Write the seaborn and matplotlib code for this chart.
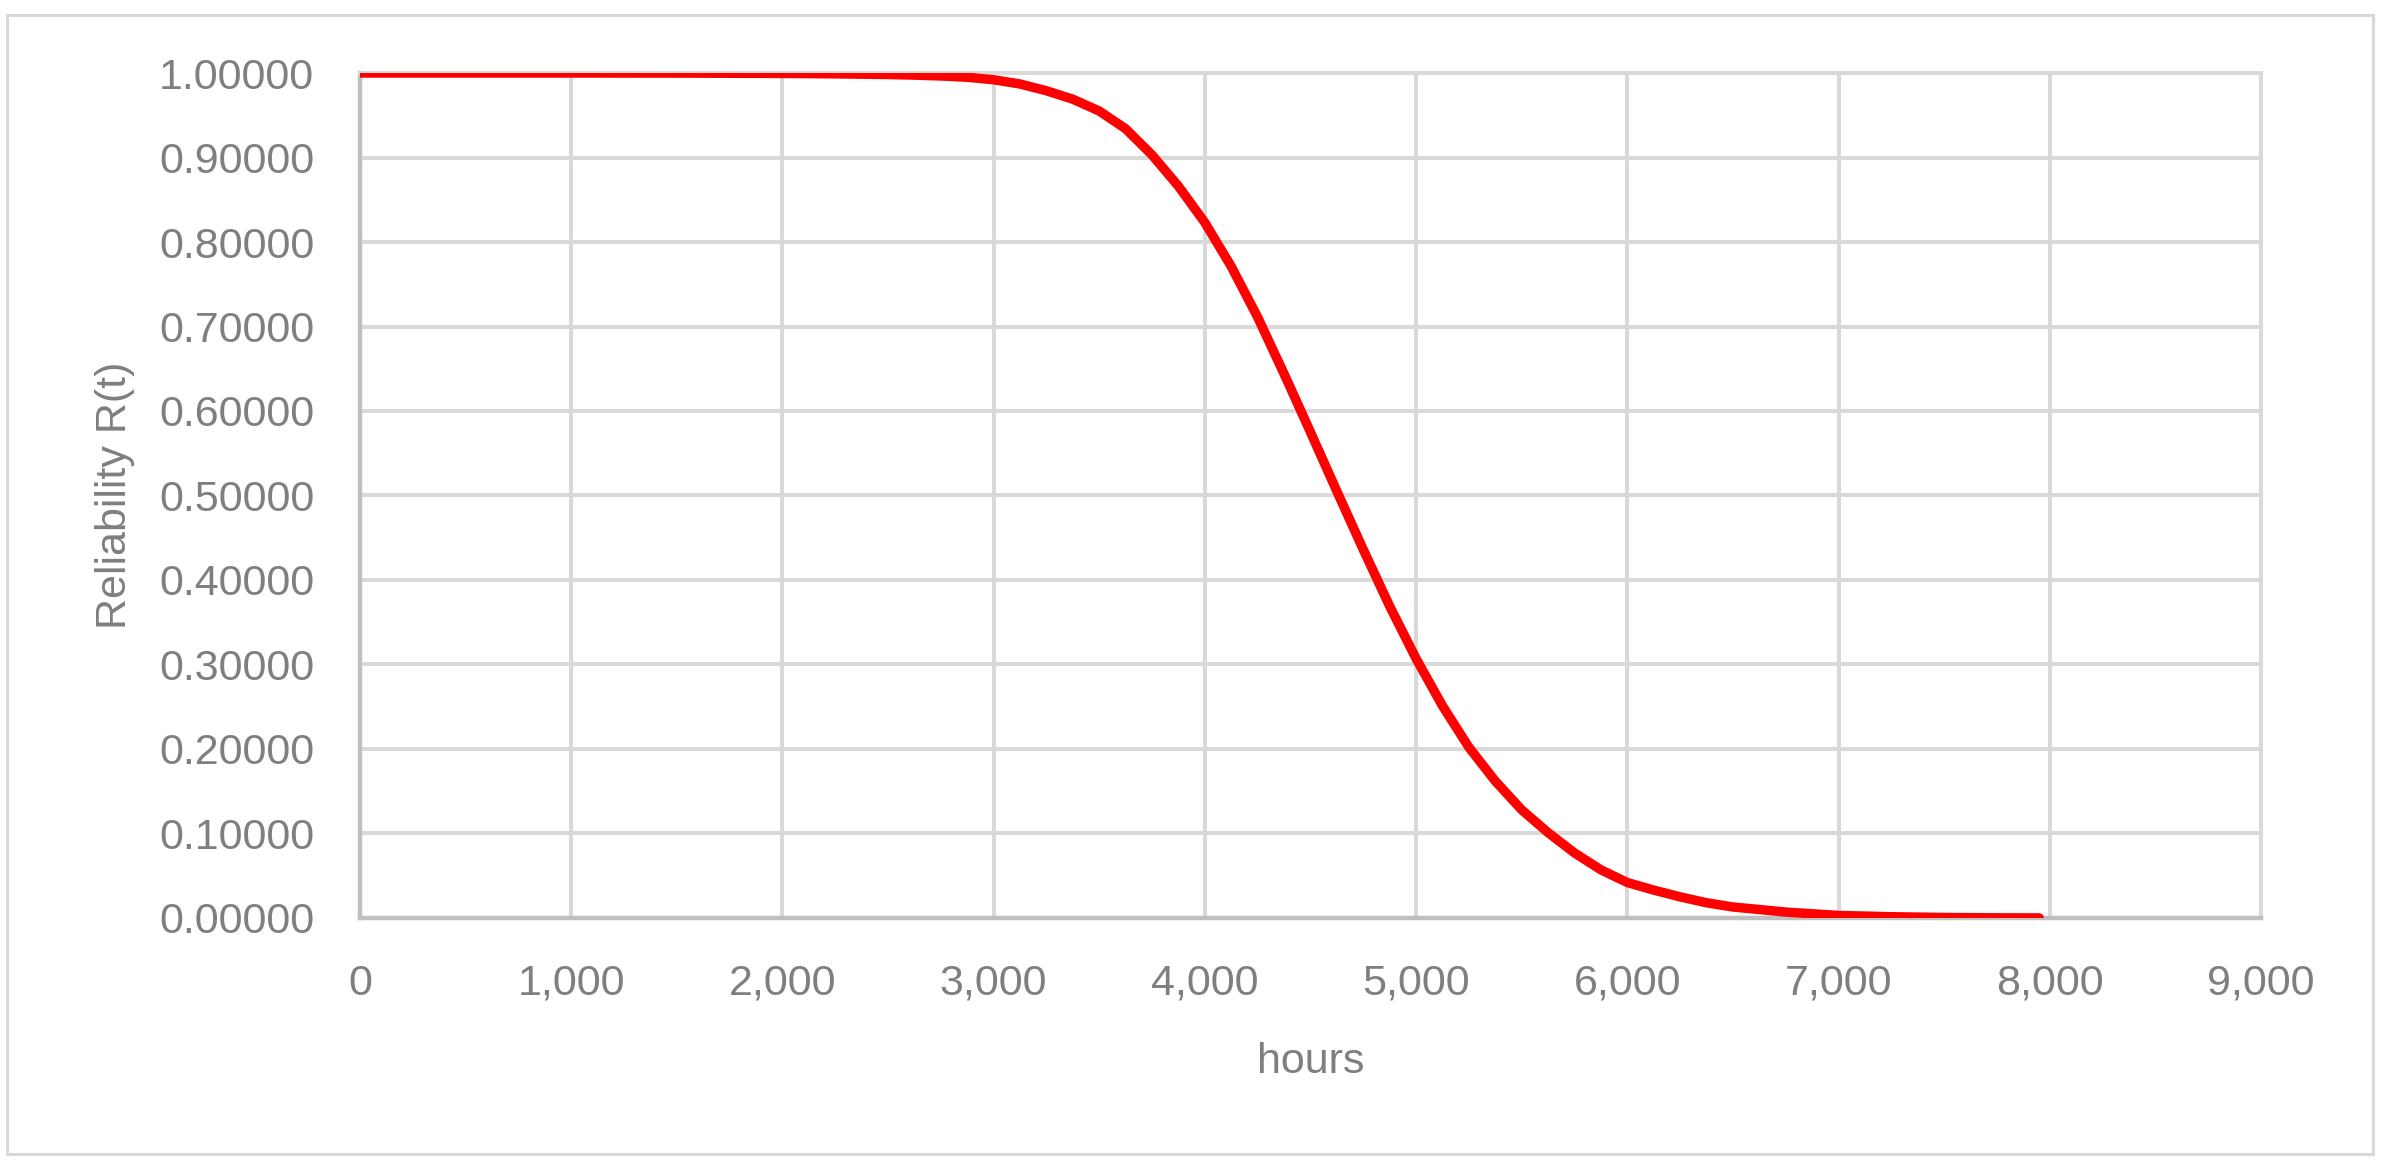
import numpy as np
import pandas as pd
import matplotlib
matplotlib.use('Agg')
import matplotlib.pyplot as plt
from matplotlib.patches import Rectangle
from matplotlib.ticker import FuncFormatter
import seaborn as sns

# values
hours = [0, 500, 1000, 1500, 2000, 2250, 2500, 2625, 2750, 2875, 3000, 3125,
         3250, 3375, 3500, 3625, 3750, 3875, 4000, 4125, 4250, 4375, 4500,
         4625, 4750, 4875, 5000, 5125, 5250, 5375, 5500, 5625, 5750, 5875,
         6000, 6125, 6250, 6375, 6500, 6625, 6750, 6875, 7000, 7250, 7500,
         7750, 7950]
reliability = [1.0, 1.0, 0.99999, 0.9999, 0.9995, 0.999, 0.9982, 0.9975,
               0.9965, 0.995, 0.992, 0.987, 0.979, 0.969, 0.955, 0.934, 0.903,
               0.866, 0.823, 0.771, 0.711, 0.644, 0.575, 0.505, 0.436, 0.369,
               0.307, 0.251, 0.202, 0.162, 0.128, 0.101, 0.077, 0.057, 0.042,
               0.033, 0.025, 0.018, 0.013, 0.010, 0.007, 0.005, 0.003, 0.0015,
               0.0006, 0.0002, 0.0001]

x_ticks = [0, 1000, 2000, 3000, 4000, 5000, 6000, 7000, 8000, 9000]
y_ticks = [0.0, 0.1, 0.2, 0.3, 0.4, 0.5, 0.6, 0.7, 0.8, 0.9, 1.0]

df = pd.DataFrame({'hours': hours, 'R': reliability})

sns.set_style('white')
plt.rcParams['font.family'] = ['Liberation Sans', 'DejaVu Sans']

txt = '#7f7f7f'
grid = '#d9d9d9'
axc = '#bfbfbf'

fig = plt.figure(figsize=(23.87, 11.70), dpi=100)
ax = fig.add_axes([0.1508, 0.2154, 0.9472 - 0.1508, 0.9376 - 0.2154])

sns.lineplot(data=df, x='hours', y='R', color='#ff0000', linewidth=6.8,
             solid_capstyle='round', solid_joinstyle='round', ax=ax, zorder=3)

ax.set_xlim(0, 9000)
ax.set_ylim(0, 1)
ax.set_xticks(x_ticks)
ax.set_yticks(y_ticks)
ax.xaxis.set_major_formatter(FuncFormatter(lambda v, p: f'{v:,.0f}'))
ax.yaxis.set_major_formatter(FuncFormatter(lambda v, p: f'{v:.5f}'))
ax.tick_params(length=0, labelsize=31, labelcolor=txt)
ax.tick_params(axis='x', pad=33)
ax.tick_params(axis='y', pad=33)

ax.grid(True, color=grid, linewidth=2.9)
ax.set_axisbelow(True)
for s in ['top', 'right']:
    ax.spines[s].set_color(grid)
    ax.spines[s].set_linewidth(2.9)
for s in ['left', 'bottom']:
    ax.spines[s].set_color(axc)
    ax.spines[s].set_linewidth(3.2)

ax.set_xlabel('hours', fontsize=31, color=txt)
ax.set_ylabel('Reliability R(t)', fontsize=31, color=txt)
ax.xaxis.label.set_verticalalignment('center')
ax.yaxis.label.set_verticalalignment('center')
ax.xaxis.set_label_coords(0.5, -0.170)
ax.yaxis.set_label_coords(-0.129, 0.5)

# chart area border
fig.patches.append(Rectangle((7 / 2387, 1 - 1154 / 1170), (2373 - 7) / 2387,
                             (1154 - 15) / 1170, transform=fig.transFigure,
                             fill=False, edgecolor=grid, linewidth=2.2))

fig.savefig('out.png', dpi=100, facecolor='white')
